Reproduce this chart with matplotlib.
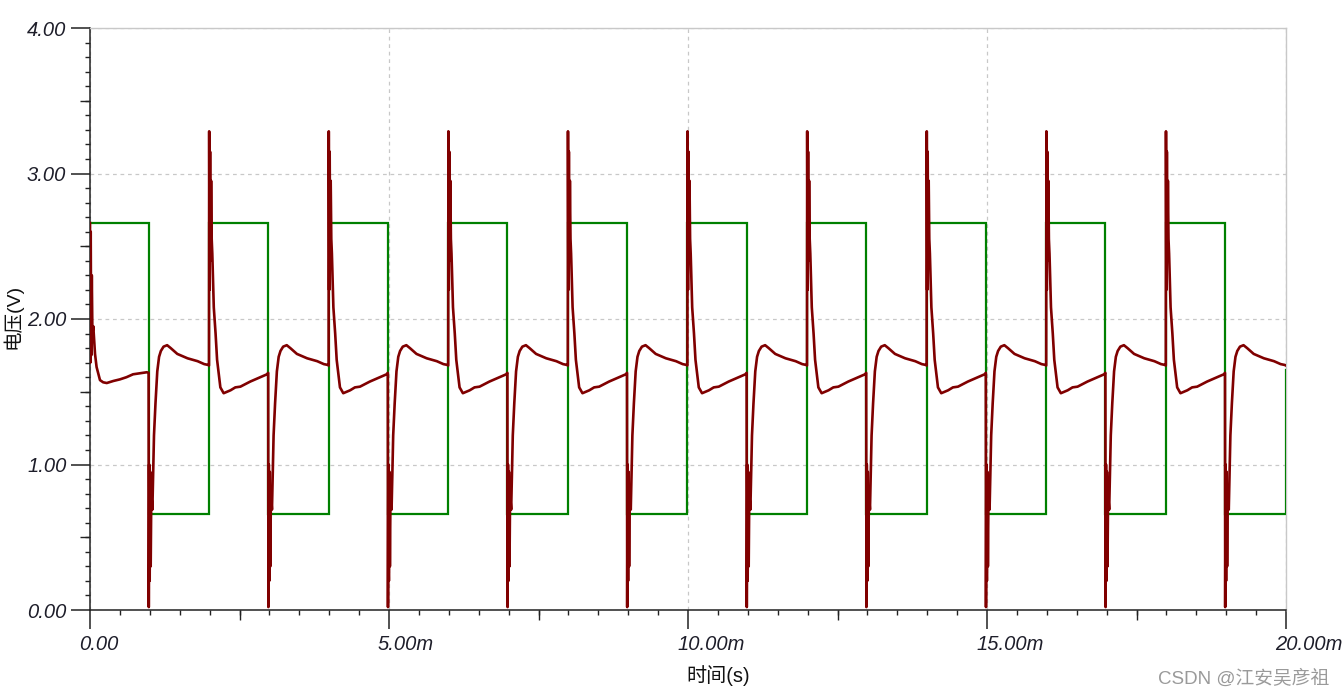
import matplotlib
matplotlib.use("Agg")
import matplotlib.pyplot as plt
import matplotlib.transforms as mtransforms
from matplotlib.ticker import MultipleLocator, FuncFormatter
import numpy as np

plt.rcParams['font.family'] = ['Liberation Sans', 'Noto Sans CJK SC', 'DejaVu Sans']

# ---- data (time in ms, voltage in V) ----
fall_times = [0.98, 2.98, 4.98, 6.98, 8.98, 10.98, 12.98, 14.98, 16.98, 18.98]
rise_times = [1.99, 3.99, 5.99, 7.99, 9.99, 11.99, 13.99, 15.99, 17.99]
green_high = 2.66
green_low = 0.66
green_end_value = 1.65
t_end = 20.0

# red trace: initial segment (before first falling edge)
first_t = [0.0, 0.005, 0.012, 0.02, 0.03, 0.04, 0.055, 0.084, 0.11, 0.167, 0.22,
           0.28, 0.39, 0.5, 0.61, 0.72, 0.84, 0.95]
first_v = [2.66, 1.70, 2.60, 1.75, 2.30, 1.90, 1.95, 1.76, 1.67, 1.58, 1.565,
           1.56, 1.574, 1.585, 1.60, 1.62, 1.627, 1.634]

# shape following a falling edge (offset from edge, ms)
fall_off = [0.0, 0.003, 0.010, 0.018, 0.026, 0.035, 0.045, 0.063, 0.09, 0.115,
            0.145, 0.175, 0.205, 0.25, 0.31, 0.37, 0.48, 0.65, 0.82, 0.93, 1.0]
fall_v = [1.63, 0.02, 1.00, 0.20, 0.95, 0.30, 0.80, 0.69, 1.20, 1.42,
          1.64, 1.74, 1.78, 1.81, 1.82, 1.80, 1.76, 1.73, 1.71, 1.69, 1.684]

# shape following a rising edge (offset from edge, ms)
rise_off = [0.0, 0.003, 0.010, 0.018, 0.026, 0.035, 0.045, 0.055, 0.08, 0.11,
            0.135, 0.19, 0.245, 0.36, 0.44, 0.525, 0.69, 0.86, 0.97]
rise_v = [1.68, 3.29, 2.20, 3.15, 2.40, 2.95, 2.55, 2.45, 2.08, 1.90,
          1.72, 1.53, 1.49, 1.51, 1.53, 1.535, 1.57, 1.60, 1.62]
red_end_value = 1.68

# ---- build series ----
red_t = list(first_t)
red_v = list(first_v)
for i, f in enumerate(fall_times):
    red_t += [f + o for o in fall_off]
    red_v += fall_v
    if i < len(rise_times):
        r = rise_times[i]
        red_t += [r + o for o in rise_off]
        red_v += rise_v
red_t.append(t_end)
red_v.append(red_end_value)

edges = sorted([(f, green_low) for f in fall_times] + [(r, green_high) for r in rise_times])
green_t = [0.0]
green_v = [green_high]
cur = green_high
for e, nv in edges:
    green_t += [e, e]
    green_v += [cur, nv]
    cur = nv
green_t += [t_end, t_end]
green_v += [cur, green_end_value]

# ---- figure ----
W, H = 1344, 698
fig = plt.figure(figsize=(W / 100, H / 100), dpi=100)
L, R, B, T = 90, 1286, 610, 28
ax = fig.add_axes([L / W, 1 - B / H, (R - L) / W, (B - T) / H])

ax.plot(green_t, green_v, color='#008000', lw=1.6, zorder=3, solid_joinstyle='miter')
ax.plot(red_t, red_v, color='#800000', lw=1.9, zorder=4, solid_joinstyle='round')

ax.set_xlim(0, 20)
ax.set_ylim(0, 4)

ax.xaxis.set_major_locator(MultipleLocator(5))
ax.xaxis.set_minor_locator(MultipleLocator(0.5))
ax.yaxis.set_major_locator(MultipleLocator(1))
ax.yaxis.set_minor_locator(MultipleLocator(0.1))
ax.xaxis.set_major_formatter(FuncFormatter(lambda v, p: "0.00" if abs(v) < 1e-9 else f"{v:.2f}m"))
ax.yaxis.set_major_formatter(FuncFormatter(lambda v, p: f"{v:.2f}"))

ax.tick_params(axis='both', which='major', direction='out', length=14, width=1.1,
               color='#222222', labelsize=14.5, labelcolor='#1e1e2a')
ax.tick_params(axis='y', which='major', pad=3)
ax.tick_params(axis='x', which='major', pad=4)
ax.tick_params(axis='both', which='minor', direction='out', length=3.5, width=1.0, color='#222222')

# medium ticks
secy = ax.secondary_yaxis('left')
secy.set_yticks([0.5, 1.5, 2.5, 3.5])
secy.tick_params(length=7.5, width=1.0, color='#222222', labelleft=False)
secy.spines['left'].set_visible(False)
secx = ax.secondary_xaxis('bottom')
secx.set_xticks([2.5, 7.5, 12.5, 17.5])
secx.tick_params(length=7.5, width=1.0, color='#222222', labelbottom=False)
secx.spines['bottom'].set_visible(False)

for lab in ax.get_yticklabels() + ax.get_xticklabels():
    lab.set_fontstyle('italic')

off = mtransforms.ScaledTranslation(-11 / 100, 0, fig.dpi_scale_trans)
for lab in ax.get_xticklabels():
    lab.set_ha('left')
    lab.set_transform(lab.get_transform() + off)

ax.grid(True, which='major', color='#c8c8c8', linestyle=(0, (3, 3)), linewidth=0.9)
ax.set_axisbelow(True)

for s in ['top', 'right']:
    ax.spines[s].set_color('#c8c8c8')
    ax.spines[s].set_linewidth(1.0)
for s in ['left', 'bottom']:
    ax.spines[s].set_color('#222222')
    ax.spines[s].set_linewidth(1.1)

ax.set_ylabel('电压(V)', fontsize=14, color='#111111', va='center', ha='center')
ax.yaxis.set_label_coords((12 - L) / (R - L), (B - 316) / (B - T))
ax.set_xlabel('时间(s)', fontsize=14.5, color='#111111', va='center', ha='left')
ax.xaxis.set_label_coords((686 - L) / (R - L), (B - 676) / (B - T))

fig.text(1158 / W, 1 - 679 / H, 'CSDN @江安吴彦祖', color='#9a9a9a', fontsize=13.5,
         ha='left', va='center')

fig.savefig('out.png', dpi=100)
